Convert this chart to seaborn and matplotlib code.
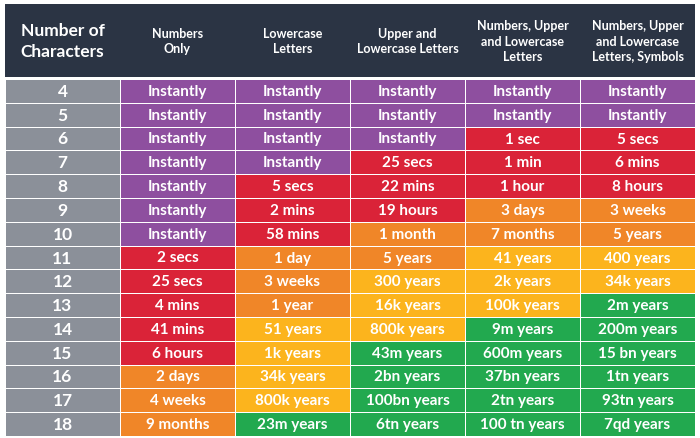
import numpy as np
import pandas as pd
import seaborn as sns
import matplotlib.pyplot as plt
from matplotlib.colors import ListedColormap
from matplotlib.patches import Rectangle

# Data
lengths = [4, 5, 6, 7, 8, 9, 10, 11, 12, 13, 14, 15, 16, 17, 18]
headers = ["Number of\nCharacters", "Numbers\nOnly", "Lowercase\nLetters",
           "Upper and\nLowercase Letters", "Numbers, Upper\nand Lowercase\nLetters",
           "Numbers, Upper\nand Lowercase\nLetters, Symbols"]
numbers_only = ["Instantly"] * 7 + ["2 secs", "25 secs", "4 mins", "41 mins", "6 hours",
                                    "2 days", "4 weeks", "9 months"]
lowercase = ["Instantly"] * 4 + ["5 secs", "2 mins", "58 mins", "1 day", "3 weeks", "1 year",
                                 "51 years", "1k years", "34k years", "800k years", "23m years"]
upper_lower = ["Instantly"] * 3 + ["25 secs", "22 mins", "19 hours", "1 month", "5 years",
                                   "300 years", "16k years", "800k years", "43m years",
                                   "2bn years", "100bn years", "6tn years"]
num_upper_lower = ["Instantly", "Instantly", "1 sec", "1 min", "1 hour", "3 days", "7 months",
                   "41 years", "2k years", "100k years", "9m years", "600m years",
                   "37bn years", "2tn years", "100 tn years"]
all_chars = ["Instantly", "Instantly", "5 secs", "6 mins", "8 hours", "3 weeks", "5 years",
             "400 years", "34k years", "2m years", "200m years", "15 bn years",
             "1tn years", "93tn years", "7qd years"]
# severity: 0 purple, 1 red, 2 orange, 3 yellow, 4 green (5 = label column)
sev_numbers = [0, 0, 0, 0, 0, 0, 0, 1, 1, 1, 1, 1, 2, 2, 2]
sev_lower = [0, 0, 0, 0, 1, 1, 1, 2, 2, 2, 3, 3, 3, 3, 4]
sev_upper = [0, 0, 0, 1, 1, 1, 2, 2, 3, 3, 3, 4, 4, 4, 4]
sev_nul = [0, 0, 1, 1, 1, 2, 2, 3, 3, 3, 4, 4, 4, 4, 4]
sev_all = [0, 0, 1, 1, 1, 2, 2, 3, 3, 4, 4, 4, 4, 4, 4]

colors = ["#8e4f9f", "#da2338", "#f08628", "#fcb41d", "#22a94f", "#8b9099"]

sev = pd.DataFrame({"n": [5] * len(lengths), "a": sev_numbers, "b": sev_lower,
                    "c": sev_upper, "d": sev_nul, "e": sev_all})
labels = np.array([[str(l) for l in lengths], numbers_only, lowercase,
                   upper_lower, num_upper_lower, all_chars]).T

plt.rcParams['font.family'] = ['Lato', 'DejaVu Sans']
fig = plt.figure(figsize=(7, 4.39), dpi=100)
W, H = 700, 439
top_tab, bottom_tab = 80, 437
ax = fig.add_axes([5 / W, 1 - bottom_tab / H, 690 / W, (bottom_tab - top_tab) / H])
sns.heatmap(sev, ax=ax, cmap=ListedColormap(colors), vmin=-0.5, vmax=5.5, cbar=False,
            annot=labels, fmt="", linewidths=0.6, linecolor="white",
            annot_kws={"color": "white", "fontsize": 11, "fontweight": "bold"})
ax.set_xticks([]); ax.set_yticks([])
ax.set_xlabel(""); ax.set_ylabel("")
for t in ax.texts[::6]:
    t.set_fontsize(12.5)

# header
hax = fig.add_axes([5 / W, 1 - 78 / H, 690 / W, 73 / H])
hax.add_patch(Rectangle((0, 0), 6, 1, color="#2b3444"))
hax.set_xlim(0, 6); hax.set_ylim(0, 1); hax.axis("off")
for i, h in enumerate(headers):
    hax.text(i + 0.5, 0.5, h, color="white", ha="center", va="center",
             fontsize=12.5 if i == 0 else 9, fontweight="bold", linespacing=1.35)

fig.savefig("out.png", dpi=100)
